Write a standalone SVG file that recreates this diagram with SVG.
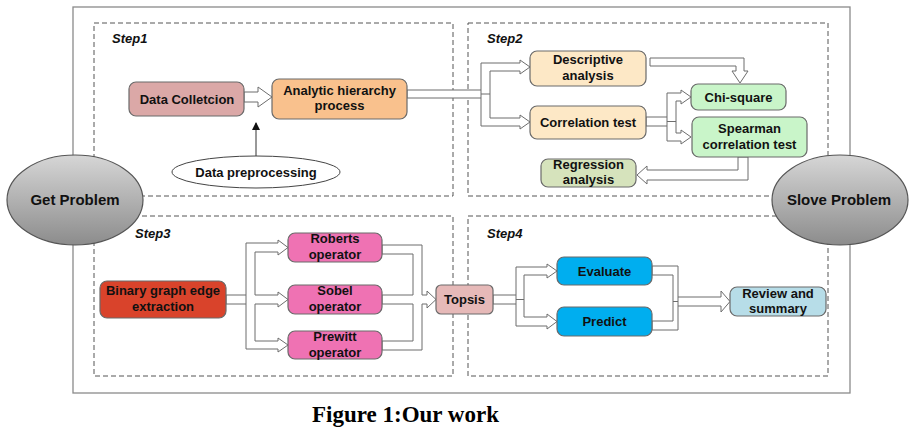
<svg xmlns="http://www.w3.org/2000/svg" width="921" height="435" viewBox="0 0 921 435">
<defs>
<linearGradient id="gray" x1="0" y1="0" x2="0" y2="1">
<stop offset="0" stop-color="#d6d6d6"/>
<stop offset="1" stop-color="#8c8c8c"/>
</linearGradient>
<marker id="tri" markerWidth="8" markerHeight="8" refX="7" refY="4" orient="auto" markerUnits="userSpaceOnUse">
<path d="M0,0 L8,4 L0,8 Z" fill="#111"/>
</marker>
</defs>
<style>
text{font-family:"Liberation Sans",Arial,sans-serif;font-weight:bold;font-size:13px;fill:#111;text-anchor:middle}
.step{font-style:italic;text-anchor:start}
.big{font-size:15px}
.cap{font-family:"Liberation Serif","Times New Roman",serif;font-size:23px;text-anchor:start;fill:#000}
.frame{fill:none;stroke:#8a8a8a;stroke-width:1.3}
.dash{fill:none;stroke:#555;stroke-width:1;stroke-dasharray:5 3}
.node{stroke:#6a6a6a;stroke-width:1.2}
.conn{fill:#fff;stroke:#6d6d6d;stroke-width:1}
.seam{fill:none;stroke:#6d6d6d;stroke-width:1}
.ell{fill:url(#gray);stroke:#555;stroke-width:1.2}
</style>
<rect class="frame" x="73" y="7" width="777" height="386"/>
<g id="step1"><rect class="dash" x="94" y="23" width="359" height="173"/><text class="step" x="112" y="43">Step1</text></g>
<g id="step2"><rect class="dash" x="468" y="23" width="360" height="173"/><text class="step" x="487" y="43">Step2</text></g>
<g id="step3"><rect class="dash" x="94" y="216" width="359" height="160"/><text class="step" x="135" y="238">Step3</text></g>
<g id="step4"><rect class="dash" x="468" y="216" width="360" height="160"/><text class="step" x="487" y="238">Step4</text></g>

<g id="connectors">
<path class="conn" d="M244,92 H258 V87 L272,97 L258,107 V102 H244 Z"/>
<line x1="256" y1="157" x2="256" y2="123" stroke="#333" stroke-width="1" marker-end="url(#tri)"/>
<path class="conn" d="M407,90 H481 V63 H520 V60 L530,67 L520,74 V71 H490 V118 H520 V115 L530,122 L520,129 V126 H481 V98 H407 Z"/>
<path class="seam" d="M481,90 V98 M481,94 H490"/>
<path class="conn" d="M650,58 H744 V71 H748 L740,83 L732,71 H736 V66 H650 Z"/>
<path class="conn" d="M646,117 H667 V93 H681 V90 L691,97 L681,104 V101 H676 V133 H681 V130 L691,137 L681,144 V141 H667 V126 H646 Z"/>
<path class="seam" d="M667,117 V126 M667,121.5 H676"/>
<path class="conn" d="M738,157 V170 H647 V166 L637,175 L647,184 V180 H748 V157 Z"/>
<path class="conn" d="M226,295 H246 V243 H278 V240 L288,247.5 L278,255 V252 H255 V295 H278 V292 L288,299.5 L278,307 V304 H255 V341 H278 V338 L288,345 L278,352 V349 H246 V304 H226 Z"/>
<path class="seam" d="M246,295 V304"/>
<path class="conn" d="M382,245 H422 V295 H427 V291 L436,299.5 L427,308 V304 H422 V350 H382 V341 H413 V304 H382 V295 H413 V254 H382 Z"/>
<path class="conn" d="M493,295 H516 V267 H547 V264 L557,271 L547,278 V275 H524 V317 H547 V314 L557,321.5 L547,329 V326 H516 V304 H493 Z"/>
<path class="seam" d="M516,295 V304 M516,299.5 H524"/>
<path class="conn" d="M652,266 H678 V297 H721 V291 L730,301.5 L721,312 V306 H678 V330 H652 V321 H673 V275 H652 Z"/>
<path class="seam" d="M678,297 V306 M673,301.5 H678"/>
</g>

<g id="get-problem"><ellipse class="ell" cx="75" cy="200" rx="68" ry="45"/><text class="big" x="75" y="205">Get Problem</text></g>
<g id="slove-problem"><ellipse class="ell" cx="840" cy="200" rx="68" ry="45"/><text class="big" x="839" y="205">Slove Problem</text></g>

<g id="data-collection"><rect class="node" x="129" y="82" width="115" height="34" rx="7" fill="#dba8a7"/><text x="187" y="103.5">Data Colletcion</text></g>
<g id="ahp"><rect class="node" x="272" y="79" width="135" height="40" rx="7" fill="#f9c18d"/><text x="339.5" y="95">Analytic hierarchy</text><text x="339.5" y="110">process</text></g>
<g id="data-preprocessing"><ellipse cx="256" cy="172" rx="84" ry="16" fill="#fff" stroke="#444" stroke-width="1"/><text x="256" y="176.5">Data preprocessing</text></g>

<g id="descriptive"><rect class="node" x="530" y="51" width="116" height="35" rx="7" fill="#fde8c6"/><text x="588" y="64">Descriptive</text><text x="588" y="79.5">analysis</text></g>
<g id="correlation"><rect class="node" x="530" y="106" width="116" height="33" rx="7" fill="#fde8c6"/><text x="588" y="127">Correlation test</text></g>
<g id="chi-square"><rect class="node" x="691" y="84" width="95" height="26" rx="7" fill="#c9f5c9"/><text x="738.5" y="101.5">Chi-square</text></g>
<g id="spearman"><rect class="node" x="692" y="117" width="115" height="40" rx="7" fill="#c9f5c9"/><text x="749.5" y="133">Spearman</text><text x="749.5" y="149">correlation test</text></g>
<g id="regression"><rect class="node" x="541" y="159" width="95" height="28" rx="7" fill="#d6e3bc"/><text x="588.5" y="168.5">Regression</text><text x="588.5" y="183.5">analysis</text></g>

<g id="binary"><rect class="node" x="100" y="281" width="126" height="37" rx="7" fill="#d9432b"/><text x="163" y="295">Binary graph edge</text><text x="163" y="311">extraction</text></g>
<g id="roberts"><rect class="node" x="288" y="233" width="94" height="29" rx="7" fill="#ef72b3"/><text x="335" y="243">Roberts</text><text x="335" y="259">operator</text></g>
<g id="sobel"><rect class="node" x="288" y="285" width="94" height="29" rx="7" fill="#ef72b3"/><text x="335" y="295">Sobel</text><text x="335" y="311">operator</text></g>
<g id="prewitt"><rect class="node" x="288" y="331" width="94" height="28" rx="7" fill="#ef72b3"/><text x="335" y="341">Prewitt</text><text x="335" y="357">operator</text></g>
<g id="topsis"><rect class="node" x="436" y="285" width="57" height="29" rx="5" fill="#e6b9b8"/><text x="464.5" y="304">Topsis</text></g>

<g id="evaluate"><rect class="node" x="557" y="257" width="95" height="28" rx="7" fill="#00aeef"/><text x="604.5" y="275.5">Evaluate</text></g>
<g id="predict"><rect class="node" x="557" y="307" width="95" height="29" rx="7" fill="#00aeef"/><text x="604.5" y="326">Predict</text></g>
<g id="review"><rect class="node" x="730" y="287" width="96" height="29" rx="7" fill="#b7dde8"/><text x="778" y="297.5">Review and</text><text x="778" y="312.5">summary</text></g>

<text class="cap" x="312" y="422">Figure 1:Our work</text>
</svg>
